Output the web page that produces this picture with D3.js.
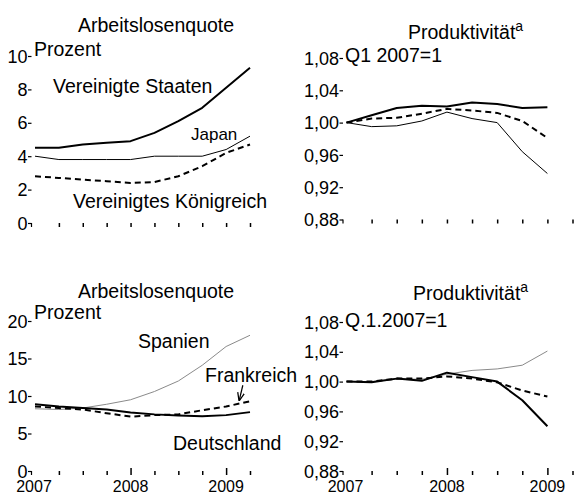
<!DOCTYPE html>
<html>
<head>
<meta charset="utf-8">
<script src="https://cdn.jsdelivr.net/npm/d3@7"></script>
<style>
  body { margin: 0; background: #fff; }
  svg { display: block; font-family: "Liberation Sans", Arial, sans-serif; }
</style>
</head>
<body>
<div id="place"></div>
<script>
// quartale Q1 2007 .. Q2 2009
const quartale = d3.range(10);
const jahre = ["2007", "2008", "2009"];
const jahrIndex = [0, 4, 8];

// Arbeitslosenquote, Prozent (oben)
const usa = [4.5, 4.5, 4.7, 4.8, 4.9, 5.4, 6.1, 6.9, 8.1, 9.3];
const japan = [4.0, 3.8, 3.8, 3.8, 3.8, 4.0, 4.0, 4.0, 4.4, 5.2];
const uk = [2.8, 2.7, 2.6, 2.5, 2.4, 2.45, 2.8, 3.4, 4.2, 4.7];

// Produktivität, Q1 2007 = 1 (oben)
const prodUsa = [1.000, 1.009, 1.018, 1.021, 1.020, 1.025, 1.023, 1.018, 1.019];
const prodUk = [1.000, 1.005, 1.006, 1.011, 1.017, 1.015, 1.012, 1.002, 0.981];
const prodJapan = [1.000, 0.995, 0.996, 1.002, 1.013, 1.005, 1.000, 0.964, 0.937];

// Arbeitslosenquote, Prozent (unten)
const spanien = [8.3, 8.2, 8.4, 8.9, 9.5, 10.6, 12.0, 14.1, 16.6, 18.1];
const frankreich = [8.6, 8.4, 8.2, 7.7, 7.25, 7.45, 7.55, 8.1, 8.6, 9.3];
const deutschland = [8.9, 8.6, 8.4, 8.2, 7.8, 7.55, 7.4, 7.3, 7.45, 7.85];

// Produktivität, Q.1.2007 = 1 (unten)
const prodSpanien = [1.000, 1.000, 1.004, 1.003, 1.010, 1.015, 1.017, 1.022, 1.041];
const prodFrankreich = [1.000, 1.000, 1.004, 1.004, 1.007, 1.004, 0.999, 0.988, 0.980];
const prodDeutschland = [1.000, 0.999, 1.004, 1.001, 1.012, 1.006, 1.000, 0.975, 0.940];

const quoteTicks = [[0, 2, 4, 6, 8, 10], [0, 5, 10, 15, 20]];
const prodTicks = [0.88, 0.92, 0.96, 1.00, 1.04, 1.08];

const W = 574, H = 494;
const svg = d3.select("#place").append("svg")
    .attr("width", W)
    .attr("height", H);

const de = d3.formatLocale({ decimal: ",", thousands: ".", grouping: [3], currency: ["", " €"] });
const fmt2 = de.format(".2f");

// styles der linien
const dick = { stroke: "#000", width: 2, dash: null };
const duenn = { stroke: "#000", width: 1, dash: null };
const grau = { stroke: "#8a8a8a", width: 1, dash: null };
const gestrichelt = { stroke: "#000", width: 2, dash: "6,4" };

function panel(cfg) {
    const x = d3.scaleLinear().domain([0, 9]).range(cfg.xr);
    const y = d3.scaleLinear().domain(cfg.yd).range(cfg.yr);
    const g = svg.append("g");
    const axX = cfg.xr[0] - 3.5;

    // y achse: kurze striche, kein strich der achse
    const ya = g.append("g")
        .attr("transform", "translate(" + axX + ",0)")
        .call(d3.axisLeft(y).tickValues(cfg.ticks).tickSize(3.5).tickPadding(0.5).tickFormat(cfg.fmt));
    ya.select(".domain").remove();
    ya.selectAll("text")
        .attr("font-size", 18)
        .attr("dy", "0.34em")
        .attr("font-family", "Liberation Sans, Arial, sans-serif")
        .attr("fill", "#000");
    ya.selectAll("line").attr("stroke-width", 1.2);

    // haken an der null
    g.append("line")
        .attr("x1", axX).attr("x2", axX)
        .attr("y1", y(cfg.yd[0])).attr("y2", y(cfg.yd[0]) + 4)
        .attr("stroke", "#000").attr("stroke-width", 1.2);

    // x achse: nur kleine striche
    const xa = g.append("g")
        .attr("transform", "translate(0," + y(cfg.yd[0]) + ")")
        .call(d3.axisBottom(x).tickValues(quartale.slice(1)).tickSize(4).tickFormat(""));
    xa.select(".domain").remove();
    xa.selectAll("line").attr("stroke-width", 1.5);
    if (cfg.jahre) {
        xa.selectAll(".tick").filter(d => jahrIndex.includes(d)).select("line")
            .attr("y1", -3);
        g.selectAll(".jahr")
            .data(jahre)
            .join("text")
            .attr("class", "jahr")
            .attr("x", (d, i) => x(jahrIndex[i]) + (i === 0 ? -1 : 0))
            .attr("y", 492)
            .attr("text-anchor", "middle")
            .attr("font-size", 16)
            .text(d => d);
    }

    const line = d3.line().x((d, i) => x(i)).y(d => y(d));
    cfg.serien.forEach(s => {
        g.append("path")
            .datum(s.werte)
            .attr("d", line)
            .attr("fill", "none")
            .attr("stroke", s.stil.stroke)
            .attr("stroke-width", s.stil.width)
            .attr("stroke-dasharray", s.stil.dash)
            .attr("stroke-linejoin", "round");
    });

    cfg.texte.forEach(t => {
        const tx = g.append("text")
            .attr("x", t.x).attr("y", t.y)
            .attr("font-size", t.size || 19.5)
            .text(t.text);
        if (t.sup) {
            tx.append("tspan").attr("dy", -8).attr("font-size", 14).text(t.sup);
        }
    });
    return { x, y, g };
}

panel({
    xr: [35, 250], yd: [0, 10], yr: [223, 56], ticks: quoteTicks[0], fmt: d3.format("d"),
    serien: [{ werte: japan, stil: duenn }, { werte: uk, stil: gestrichelt }, { werte: usa, stil: dick }],
    texte: [
        { text: "Arbeitslosenquote", x: 78, y: 32 },
        { text: "Prozent", x: 34, y: 56 },
        { text: "Vereinigte Staaten", x: 53, y: 93 },
        { text: "Japan", x: 191, y: 140, size: 17 },
        { text: "Vereinigtes Königreich", x: 73, y: 208 }
    ]
});

panel({
    xr: [346.5, 572.5], yd: [0.88, 1.08], yr: [219.5, 58], ticks: prodTicks, fmt: fmt2,
    serien: [{ werte: prodJapan, stil: duenn }, { werte: prodUk, stil: gestrichelt }, { werte: prodUsa, stil: dick }],
    texte: [
        { text: "Produktivität", x: 408, y: 39, sup: "a" },
        { text: "Q1 2007=1", x: 345, y: 62 }
    ]
});

const bl = panel({
    xr: [35, 250], yd: [0, 20], yr: [471, 321], ticks: quoteTicks[1], fmt: d3.format("d"), jahre: true,
    serien: [{ werte: spanien, stil: grau }, { werte: frankreich, stil: gestrichelt }, { werte: deutschland, stil: dick }],
    texte: [
        { text: "Arbeitslosenquote", x: 78, y: 298 },
        { text: "Prozent", x: 34, y: 319 },
        { text: "Spanien", x: 138, y: 348 },
        { text: "Frankreich", x: 205, y: 382 },
        { text: "Deutschland", x: 173, y: 450 }
    ]
});

// pfeil von "Frankreich" zur gestrichelten linie
svg.append("defs").append("marker")
    .attr("id", "spitze")
    .attr("viewBox", "0 0 10 10")
    .attr("refX", 9).attr("refY", 5)
    .attr("markerWidth", 7).attr("markerHeight", 7)
    .attr("orient", "auto")
    .append("path").attr("d", "M0,1 L10,5 L0,9").attr("fill", "none").attr("stroke", "#000").attr("stroke-width", 1.5);
bl.g.append("line")
    .attr("x1", bl.x(8.7)).attr("y1", bl.y(frankreich[9]) - 16)
    .attr("x2", bl.x(8.55)).attr("y2", bl.y(frankreich[9]) - 1)
    .attr("stroke", "#000").attr("stroke-width", 1.2)
    .attr("marker-end", "url(#spitze)");

panel({
    xr: [346.5, 572.5], yd: [0.88, 1.08], yr: [471, 322], ticks: prodTicks, fmt: fmt2, jahre: true,
    serien: [{ werte: prodSpanien, stil: grau }, { werte: prodFrankreich, stil: gestrichelt }, { werte: prodDeutschland, stil: dick }],
    texte: [
        { text: "Produktivität", x: 413, y: 300, sup: "a" },
        { text: "Q.1.2007=1", x: 345, y: 327 }
    ]
});
</script>
</body>
</html>
